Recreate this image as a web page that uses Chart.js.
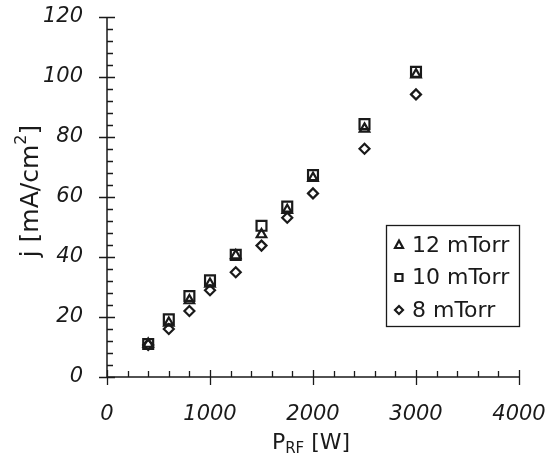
<!DOCTYPE html>
<html>
<head>
<meta charset="utf-8">
<script src="https://cdn.jsdelivr.net/npm/chart.js@4.4.1/dist/chart.umd.min.js"></script>
<style>
  html, body { margin: 0; padding: 0; background: #fff; }
  #wrap { width: 549px; height: 463px; }
</style>
</head>
<body>
<div id="wrap"><canvas id="c" width="549" height="463"></canvas></div>
<script>
// RF power (W) and current density (mA/cm^2) at three pressures
const power = [400, 600, 800, 1000, 1250, 1500, 1750, 2000, 2500, 3000];
const j12mTorr = [11.0, 18.0, 25.5, 31.0, 40.5, 47.5, 55.6, 66.3, 82.7, 100.8];
const j10mTorr = [11.0, 19.2, 27.0, 32.2, 40.7, 50.4, 56.8, 67.3, 84.3, 101.7];
const j8mTorr  = [10.7, 16.0, 22.0, 28.9, 34.9, 43.8, 53.1, 61.2, 76.1, 94.2];
const seriesLabels = ['12 mTorr', '10 mTorr', '8 mTorr'];
const xTicks = [0, 1000, 2000, 3000, 4000];
const yTicks = [0, 20, 40, 60, 80, 100, 120];

const INK = '#1a1a1a';
const FONT = '"DejaVu Sans", "Open Sans", sans-serif';

function pts(ys) { return power.map((x, i) => ({ x: x, y: ys[i] })); }

const markerStyles = [
  { pointStyle: 'triangle', radius: 5.5 },
  { pointStyle: 'rect', radius: 7 },
  { pointStyle: 'rectRot', radius: 5 }
];

const datasets = [j12mTorr, j10mTorr, j8mTorr].map((ys, k) => ({
  label: seriesLabels[k],
  data: pts(ys),
  showLine: false,
  pointStyle: markerStyles[k].pointStyle,
  pointRadius: markerStyles[k].radius,
  pointHoverRadius: markerStyles[k].radius,
  pointBorderWidth: 2.2,
  pointBorderColor: INK,
  pointBackgroundColor: 'rgba(255,255,255,0)'
}));

// Axis lines with crossing major ticks and inward minor ticks
const axisPlugin = {
  id: 'axisFrame',
  beforeDatasetsDraw(chart) {
    const { ctx, chartArea: a, scales: { x, y } } = chart;
    ctx.save();
    ctx.strokeStyle = INK;
    ctx.lineWidth = 1.5;
    ctx.beginPath();
    ctx.moveTo(a.left, a.top);
    ctx.lineTo(a.left, a.bottom);
    ctx.lineTo(a.right, a.bottom);
    ctx.stroke();
    ctx.lineWidth = 1.3;
    ctx.beginPath();
    for (let v = 0; v <= 120; v += 4) {
      const py = Math.round(y.getPixelForValue(v)) + 0.5;
      const major = v % 20 === 0;
      ctx.moveTo(a.left - (major ? 8 : 0), py);
      ctx.lineTo(a.left + (major ? 8 : 6), py);
    }
    for (let v = 0; v <= 4000; v += 200) {
      const px = Math.round(x.getPixelForValue(v)) + 0.5;
      const major = v % 1000 === 0;
      ctx.moveTo(px, a.bottom + (major ? 8 : 0));
      ctx.lineTo(px, a.bottom - (major ? 7 : 6));
    }
    ctx.stroke();
    ctx.restore();
  }
};

// Axis titles with sub/superscripts, and the boxed legend
const textPlugin = {
  id: 'titlesLegend',
  afterDraw(chart) {
    const { ctx } = chart;
    ctx.save();
    ctx.fillStyle = INK;
    ctx.textBaseline = 'alphabetic';

    // x title: P_RF [W]
    let big = '22px ' + FONT, small = '15px ' + FONT;
    ctx.font = big; const wP = ctx.measureText('P').width;
    ctx.font = small; const wRF = ctx.measureText('RF').width;
    ctx.font = big; const wW = ctx.measureText(' [W]').width;
    const total = wP + wRF + wW;
    let cx = 311 - total / 2;
    const by = 449;
    ctx.font = big; ctx.fillText('P', cx, by); cx += wP;
    ctx.font = small; ctx.fillText('RF', cx, by + 4); cx += wRF;
    ctx.font = big; ctx.fillText(' [W]', cx, by);

    // y title: j [mA/cm^2]
    big = '25px ' + FONT; small = '16px ' + FONT;
    ctx.save();
    ctx.translate(38, 191);
    ctx.rotate(-Math.PI / 2);
    ctx.font = big; const w1 = ctx.measureText('j [mA/cm').width;
    ctx.font = small; const w2 = ctx.measureText('2').width;
    ctx.font = big; const w3 = ctx.measureText(']').width;
    let tx = -(w1 + w2 + w3) / 2;
    ctx.font = big; ctx.fillText('j [mA/cm', tx, 0); tx += w1;
    ctx.font = small; ctx.fillText('2', tx, -12); tx += w2;
    ctx.font = big; ctx.fillText(']', tx, 0);
    ctx.restore();

    // legend box
    const bx = 386, byTop = 225, bw = 133, bh = 101;
    ctx.strokeStyle = INK;
    ctx.lineWidth = 1.3;
    ctx.strokeRect(bx + 0.5, byTop + 0.5, bw, bh);
    const rows = [245, 277.5, 310];
    ctx.font = '22px ' + FONT;
    ctx.textBaseline = 'middle';
    chart.data.datasets.forEach((ds, i) => {
      const ly = rows[i];
      ctx.lineWidth = 2.2;
      ctx.strokeStyle = INK;
      ctx.beginPath();
      const mx = 399;
      if (ds.pointStyle === 'triangle') {
        ctx.moveTo(mx, ly - 4.5); ctx.lineTo(mx + 4, ly + 3); ctx.lineTo(mx - 4, ly + 3); ctx.closePath();
      } else if (ds.pointStyle === 'rect') {
        ctx.rect(mx - 3.5, ly - 3.5, 7, 7);
      } else {
        ctx.moveTo(mx, ly - 4); ctx.lineTo(mx + 4, ly); ctx.lineTo(mx, ly + 4); ctx.lineTo(mx - 4, ly); ctx.closePath();
      }
      ctx.stroke();
      ctx.fillText(ds.label, 412, ly + 1);
    });
    ctx.restore();
  }
};

function fixBox(s, size, horizontal) {
  if (horizontal) s.height = size; else s.width = size;
  s.paddingTop = 0; s.paddingBottom = 0; s.paddingLeft = 0; s.paddingRight = 0;
}

new Chart(document.getElementById('c'), {
  type: 'scatter',
  data: { datasets: datasets },
  options: {
    responsive: false,
    animation: false,
    events: [],
    layout: { padding: { top: 17, right: 30, left: 0, bottom: 0 } },
    plugins: { legend: { display: false }, tooltip: { enabled: false } },
    scales: {
      x: {
        type: 'linear', min: 0, max: 4000,
        afterFit(s) { fixBox(s, 86, true); },
        afterBuildTicks(s) { s.ticks = xTicks.map(v => ({ value: v })); },
        grid: { display: false, drawTicks: false },
        border: { display: false },
        ticks: { color: INK, padding: 25, maxRotation: 0, callback: v => String(v),
                 font: { family: FONT, size: 21, style: 'italic' } }
      },
      y: {
        type: 'linear', min: 0, max: 120,
        afterFit(s) { fixBox(s, 107, false); },
        afterBuildTicks(s) { s.ticks = yTicks.map(v => ({ value: v })); },
        grid: { display: false, drawTicks: false },
        border: { display: false },
        ticks: { color: INK, padding: 24, callback: v => String(v),
                 font: { family: FONT, size: 21, style: 'italic' } }
      }
    }
  },
  plugins: [axisPlugin, textPlugin]
});
</script>
</body>
</html>
